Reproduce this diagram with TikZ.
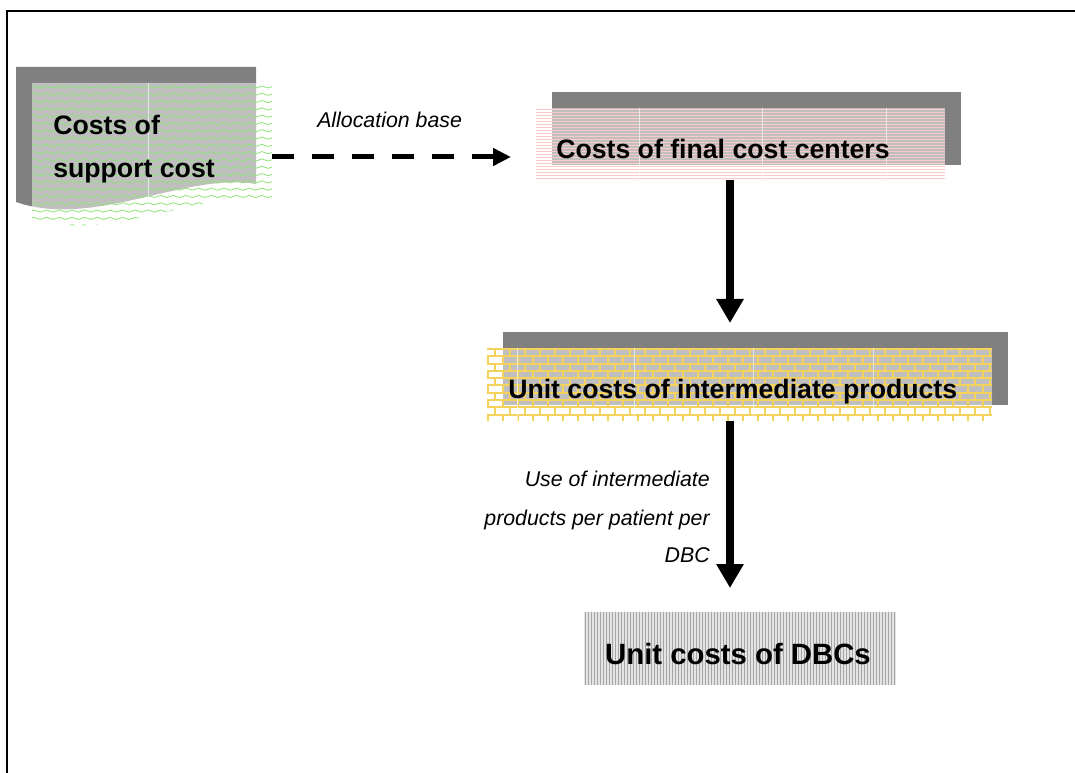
\documentclass[tikz,border=0pt]{standalone}
\usepackage{fontspec}
\setmainfont{Liberation Sans}
\usetikzlibrary{arrows.meta,fit,decorations.pathmorphing}
\definecolor{shadowgray}{RGB}{128,128,128}
\definecolor{brickyellow}{RGB}{245,210,90}
\definecolor{linepink}{RGB}{255,200,200}
\definecolor{wavegreen}{RGB}{140,228,120}
\definecolor{stripegray}{RGB}{165,165,165}
\definecolor{stripebg}{RGB}{228,228,228}
\tikzset{
  area/.style={inner sep=0pt, outer sep=0pt, draw=none},
  shadowfill/.style={fill=shadowgray, draw=none},
  veil/.style={fill=white, fill opacity=0.5, draw=none},
  boldtext/.style={inner sep=0pt, font=\fontsize{20}{24}\selectfont\bfseries},
  dbctext/.style={inner sep=0pt, font=\fontsize{22}{26}\selectfont\bfseries},
  itlabel/.style={inner sep=0pt, font=\fontsize{16}{19}\selectfont\itshape},
  bigarrow/.style={line width=6pt, -{Triangle[length=18pt,width=19.5pt]}},
  dasharrow/.style={line width=3.75pt, dash pattern=on 16.5pt off 13.5pt, -{Triangle[length=13.5pt,width=12.75pt]}},
  brick/.style={draw=brickyellow, line width=1.5pt, line cap=round},
  pinkline/.style={draw=linepink, line width=0.6pt},
  wave/.style={draw=wavegreen, line width=0.6pt, decorate, decoration={snake, amplitude=0.8pt, segment length=9.5pt}},
  seam/.style={draw=white, draw opacity=0.6, line width=0.5pt},
}
\begin{document}
\begin{tikzpicture}[x=0.75pt,y=-0.75pt]
\useasboundingbox (0,0) rectangle (1075,773);
% frame
\draw[line width=1.5pt] (7,773) -- (7,11) -- (1075,11);

% ---------- support cost (document shape) ----------
\fill[shadowfill] (16,67) -- (256,67) -- (256,184) .. controls (185,172) and (94,229) .. (16,202) -- cycle;
\fill[veil] (32,83) -- (272,83) -- (272,200) .. controls (201,188) and (110,245) .. (32,218) -- cycle;
\begin{scope}
  \clip (32,83) -- (272,83) -- (272,200) .. controls (201,188) and (110,245) .. (32,218) -- cycle;
  \foreach \r in {0,...,19} {
    \draw[wave] (30,{87+\r*7.3}) -- (280,{87+\r*7.3});
  }
  \draw[seam] (148,83) -- (148,230);
\end{scope}
\node[area, fit={(32,83) (272,218)}] (support) {};
\node[boldtext, anchor=base west] (sup1) at (53,135) {Costs of};
\node[boldtext, anchor=base west] (sup2) at (53,178) {support cost};

% ---------- final cost centers ----------
\fill[shadowfill] (552,92) rectangle (961,165);
\fill[veil] (536,108) rectangle (945,180);
\begin{scope}
  \clip (536,108) rectangle (945,180);
  \foreach \r in {0,...,24} {
    \draw[pinkline] (536,{109+\r*3}) -- (945,{109+\r*3});
  }
  \foreach \xx in {639,762,886} { \draw[seam] (\xx,108) -- (\xx,180); }
\end{scope}
\node[area, fit={(536,108) (945,180)}] (final) {};
\node[boldtext, anchor=base west] (finaltext) at (556,159) {Costs of final cost centers};

% ---------- intermediate products ----------
\fill[shadowfill] (503,332) rectangle (1008,405);
\fill[veil] (487,348) rectangle (992,421);
\begin{scope}
  \clip (487,348) rectangle (992,421);
  \foreach \r in {0,...,10} {
    \pgfmathsetmacro{\yy}{349+\r*7.3}
    \pgfmathsetmacro{\off}{mod(\r,2)*7.5}
    \draw[brick] (487,\yy) -- (992,\yy);
    \foreach \c in {0,...,34} {
      \draw[brick] ({480+\off+\c*15},\yy) -- ++(0,7.3);
    }
  }
  \foreach \xx in {517,634,753,873} { \draw[seam] (\xx,348) -- (\xx,421); }
\end{scope}
\node[area, fit={(487,348) (992,421)}] (inter) {};
\node[boldtext, anchor=base west] (intertext) at (508,399) {Unit costs of intermediate products};

% ---------- DBCs ----------
\fill[stripebg] (584,612) rectangle (896,685);
\begin{scope}
  \clip (584,612) rectangle (896,685);
  \foreach \c in {0,...,104} {
    \draw[stripegray, line width=0.75pt] ({585+\c*3},612) -- ({585+\c*3},685);
  }
\end{scope}
\node[area, fit={(584,612) (896,685)}] (dbc) {};
\node[dbctext, anchor=base] (dbctext) at (738,664) {Unit costs of DBCs};

% ---------- connectors ----------
\coordinate (ax) at (730,0);
\coordinate (ay) at (0,157);
\draw[dasharrow, shorten >=18.75pt] (support.east |- ay) -- (final.west |- ay);
\draw[bigarrow, shorten >=18.75pt] (final.south -| ax) -- (inter.north -| ax);
\draw[bigarrow, shorten >=18pt] (inter.south -| ax) -- (dbc.north -| ax);

% labels
\node[itlabel, anchor=base west] (alloc) at (317,128) {Allocation base};
\node[itlabel, anchor=base east] (use1) at (710,487) {Use of intermediate};
\node[itlabel, anchor=base east] (use2) at (710,525) {products per patient per};
\node[itlabel, anchor=base east] (use3) at (710,562) {DBC};
\end{tikzpicture}
\end{document}
